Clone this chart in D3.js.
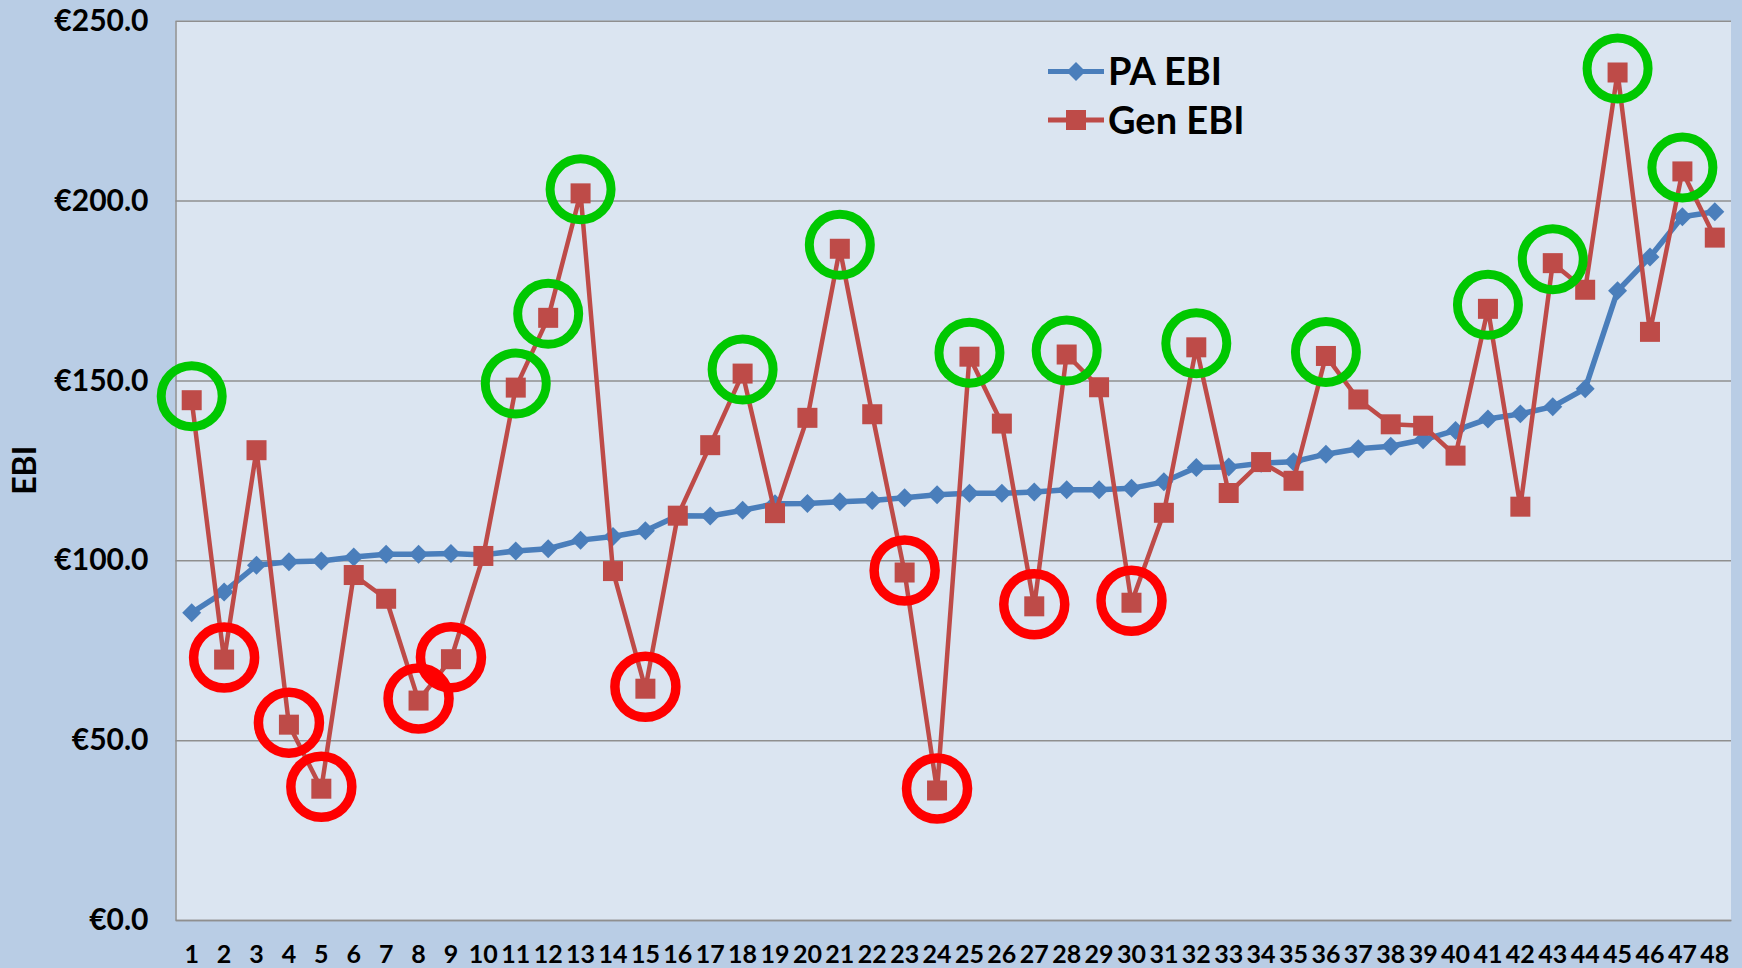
<!DOCTYPE html>
<html>
<head>
<meta charset="utf-8">
<script src="https://cdn.jsdelivr.net/npm/d3@7"></script>
<style>
  html, body { margin: 0; padding: 0; background: #b9cde5; }
  svg { display: block; font-family: Lato, "Open Sans", sans-serif; }
</style>
</head>
<body>
<svg id="chart" width="1742" height="968"></svg>
<script>
// categories 1..48
const categories = ["1","2","3","4","5","6","7","8","9","10","11","12","13","14","15","16",
  "17","18","19","20","21","22","23","24","25","26","27","28","29","30","31","32",
  "33","34","35","36","37","38","39","40","41","42","43","44","45","46","47","48"];

const paEbi = [85.4, 91.2, 98.6, 99.6, 99.8, 100.9, 101.7, 101.7, 101.9, 101.5, 102.6, 103.2,
  105.6, 106.6, 108.2, 112.4, 112.3, 113.9, 115.7, 115.8, 116.3, 116.6, 117.4, 118.2,
  118.6, 118.6, 119.0, 119.6, 119.6, 120.0, 121.8, 125.8, 125.9, 127.0, 127.4, 129.5,
  131.0, 131.7, 133.5, 136.1, 139.3, 140.7, 142.7, 147.7, 174.9, 184.3, 195.5, 196.9];

const genEbi = [144.5, 72.4, 130.6, 54.3, 36.5, 95.9, 89.3, 61.0, 72.5, 101.2, 148.0, 167.4,
  202.0, 97.0, 64.3, 112.4, 132.0, 151.9, 113.1, 139.6, 186.6, 140.6, 96.6, 36.0,
  156.6, 138.0, 87.2, 157.2, 148.1, 88.2, 113.2, 159.2, 118.7, 127.3, 122.1, 156.8,
  144.7, 137.8, 137.4, 129.1, 169.9, 114.9, 182.6, 175.2, 235.6, 163.5, 208.1, 189.7];

// highlighted points (Gen EBI) : above / below
const highPoints = ["1","11","12","13","18","21","25","28","32","36","41","43","45","47"];
const lowPoints = ["2","4","5","8","9","15","23","24","27","30"];

const yTicks = [0, 50, 100, 150, 200, 250];

const config = {
  left: 175.5,
  right: 1731,
  top: 20.7,
  bottom: 920,
};

const svg = d3.select("#chart");

const x = d3.scaleBand()
  .domain(categories)
  .range([config.left, config.right]);
const y = d3.scaleLinear()
  .domain([0, 250])
  .range([config.bottom, config.top]);
const cx = (c) => x(c) + x.bandwidth() / 2;

// plot area
svg.append("rect")
  .attr("x", config.left)
  .attr("y", config.top)
  .attr("width", config.right - config.left)
  .attr("height", config.bottom - config.top)
  .attr("fill", "#dbe5f1");

// gridlines
const grid = svg.append("g")
  .attr("transform", `translate(${config.left},0)`)
  .call(d3.axisLeft(y).tickValues(yTicks).tickSize(-(config.right - config.left)).tickFormat(""));
grid.select(".domain").remove();
grid.selectAll("line").attr("stroke", "#8f8f8f").attr("stroke-width", 1.5);

// y axis
const yAxis = svg.append("g")
  .attr("transform", `translate(${config.left},0)`)
  .call(d3.axisLeft(y).tickValues(yTicks).tickSize(0).tickPadding(27)
    .tickFormat((d) => "€" + d.toFixed(1)));
yAxis.select(".domain").attr("stroke", "#8f8f8f").attr("stroke-width", 1.5);
yAxis.selectAll("text")
  .attr("font-size", 30)
  .attr("font-weight", "bold")
  .attr("fill", "#000")
  .style("font-family", "Lato, sans-serif");

// x axis
const xAxis = svg.append("g")
  .attr("transform", `translate(0,${config.bottom})`)
  .call(d3.axisBottom(x).tickSize(0).tickPadding(25));
xAxis.select(".domain").attr("stroke", "#8f8f8f").attr("stroke-width", 1.5);
xAxis.selectAll("text")
  .attr("font-size", 25)
  .attr("font-weight", "bold")
  .attr("fill", "#000")
  .style("font-family", "Lato, sans-serif");

// axis title
svg.append("text")
  .attr("transform", `translate(25,${(config.top + config.bottom) / 2}) rotate(-90)`)
  .attr("text-anchor", "middle")
  .attr("dy", "0.35em")
  .attr("font-size", 32)
  .attr("font-weight", "bold")
  .text("EBI");

const blue = "#4a7ebb";
const red = "#be4b48";

const line = d3.line()
  .x((d, i) => cx(categories[i]))
  .y((d) => y(d));

const diamond = d3.symbol().type(d3.symbolDiamond2).size(230);

// PA EBI
svg.append("path")
  .datum(paEbi)
  .attr("fill", "none")
  .attr("stroke", blue)
  .attr("stroke-width", 5.5)
  .attr("stroke-linejoin", "round")
  .attr("d", line);
svg.append("g")
  .selectAll("path")
  .data(paEbi)
  .join("path")
  .attr("transform", (d, i) => `translate(${cx(categories[i])},${y(d)})`)
  .attr("d", diamond)
  .attr("fill", blue);

// Gen EBI
svg.append("path")
  .datum(genEbi)
  .attr("fill", "none")
  .attr("stroke", red)
  .attr("stroke-width", 4.5)
  .attr("stroke-linejoin", "round")
  .attr("d", line);
const sq = 20;
svg.append("g")
  .selectAll("rect")
  .data(genEbi)
  .join("rect")
  .attr("x", (d, i) => cx(categories[i]) - sq / 2)
  .attr("y", (d) => y(d) - sq / 2)
  .attr("width", sq)
  .attr("height", sq)
  .attr("fill", red);

// highlight rings
const genOf = (c) => genEbi[categories.indexOf(c)];
svg.append("g")
  .selectAll("circle")
  .data(highPoints)
  .join("circle")
  .attr("cx", (c) => cx(c))
  .attr("cy", (c) => y(genOf(c)) - 4)
  .attr("r", 30.5)
  .attr("fill", "none")
  .attr("stroke", "#00c800")
  .attr("stroke-width", 9);
svg.append("g")
  .selectAll("circle")
  .data(lowPoints)
  .join("circle")
  .attr("cx", (c) => cx(c))
  .attr("cy", (c) => y(genOf(c)) - 2)
  .attr("r", 30.5)
  .attr("fill", "none")
  .attr("stroke", "#ff0000")
  .attr("stroke-width", 9.5);

// legend
const legend = svg.append("g").attr("transform", "translate(1048,0)");
const legendItems = [
  { name: "PA EBI", color: blue, marker: "diamond", y: 71.5 },
  { name: "Gen EBI", color: red, marker: "square", y: 120 },
];
legendItems.forEach((it) => {
  const g = legend.append("g").attr("transform", `translate(0,${it.y})`);
  g.append("line")
    .attr("x1", 0).attr("x2", 56)
    .attr("stroke", it.color)
    .attr("stroke-width", 5);
  if (it.marker === "diamond") {
    g.append("path").attr("transform", "translate(28,0)").attr("d", diamond).attr("fill", it.color);
  } else {
    g.append("rect").attr("x", 28 - sq / 2).attr("y", -sq / 2)
      .attr("width", sq).attr("height", sq).attr("fill", it.color);
  }
  g.append("text")
    .attr("x", 60)
    .attr("dy", "0.36em")
    .attr("font-size", 38)
    .attr("font-weight", "bold")
    .text(it.name);
});
</script>
</body>
</html>
